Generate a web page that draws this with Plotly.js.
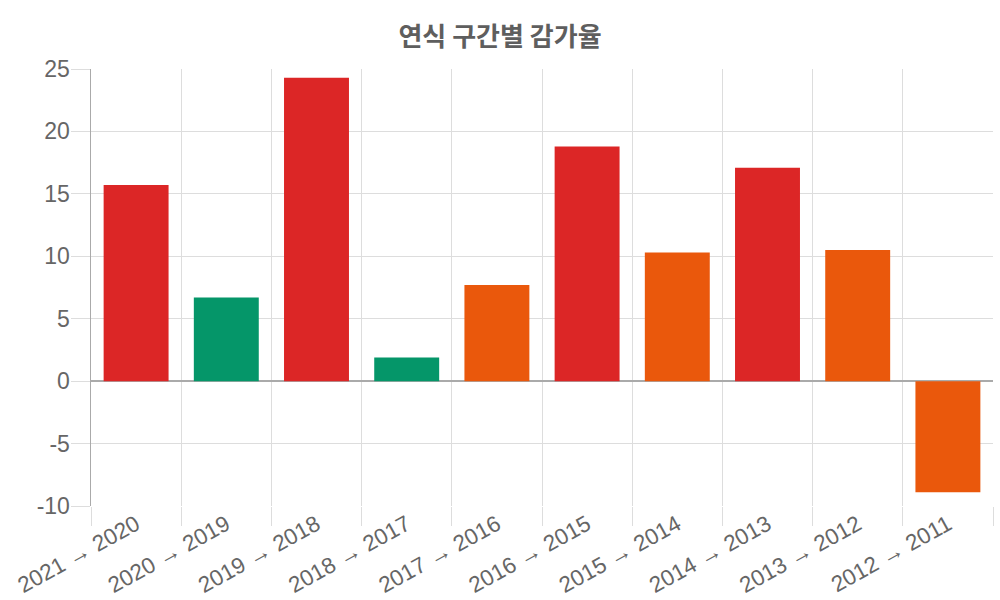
<!DOCTYPE html>
<html>
<head>
<meta charset="utf-8">
<script src="https://cdn.plot.ly/plotly-3.0.1.min.js"></script>
<style>html,body{margin:0;padding:0;background:#fff;}#chart{width:1000px;height:600px;}</style>
</head>
<body>
<div id="chart"></div>
<script>
const categories = ["2021 → 2020","2020 → 2019","2019 → 2018","2018 → 2017","2017 → 2016","2016 → 2015","2015 → 2014","2014 → 2013","2013 → 2012","2012 → 2011"];
const values = [15.7, 6.7, 24.3, 1.9, 7.7, 18.8, 10.3, 17.1, 10.5, -8.9];
const barColors = ["#dc2626","#059669","#dc2626","#059669","#ea580c","#dc2626","#ea580c","#dc2626","#ea580c","#ea580c"];
const yTicks = [-10, -5, 0, 5, 10, 15, 20, 25];

const trace = {
  type: "bar",
  x: categories,
  y: values,
  marker: {color: barColors},
  hoverinfo: "x+y"
};

const layout = {
  width: 1000, height: 600,
  margin: {l: 91, r: 7, t: 69, b: 94},
  paper_bgcolor: "#fff", plot_bgcolor: "#fff",
  bargap: 0.28,
  showlegend: false,
  title: {
    text: "연식 구간별 감가율",
    x: 0.5, xanchor: "center", y: 0.938, yanchor: "middle",
    font: {family: "Noto Sans CJK KR, Noto Sans, sans-serif", size: 26, color: "#5e5e5e", weight: 700}
  },
  font: {family: "Liberation Sans, Arial, sans-serif", color: "#666"},
  xaxis: {
    type: "category",
    tickson: "boundaries",
    ticks: "outside", ticklen: 19, tickcolor: "#dddddd", tickwidth: 1,
    showgrid: true, gridcolor: "#dddddd", gridwidth: 1,
    showline: false, zeroline: false,
    tickangle: -29,
    tickfont: {size: 22.5, color: "#666"}
  },
  yaxis: {
    range: [-10, 25],
    tickvals: yTicks,
    ticktext: yTicks.map(String),
    ticks: "outside", ticklen: 19, tickcolor: "#dddddd", tickwidth: 1,
    ticklabelstandoff: -4,
    showgrid: true, gridcolor: "#dddddd", gridwidth: 1,
    zeroline: true, zerolinecolor: "#aaaaaa", zerolinewidth: 1.5,
    showline: true, linecolor: "#aaaaaa", linewidth: 1.5,
    tickfont: {size: 23, color: "#666"},
    fixedrange: true
  }
};

Plotly.newPlot("chart", [trace], layout, {displayModeBar: false, staticPlot: true});
</script>
</body>
</html>
